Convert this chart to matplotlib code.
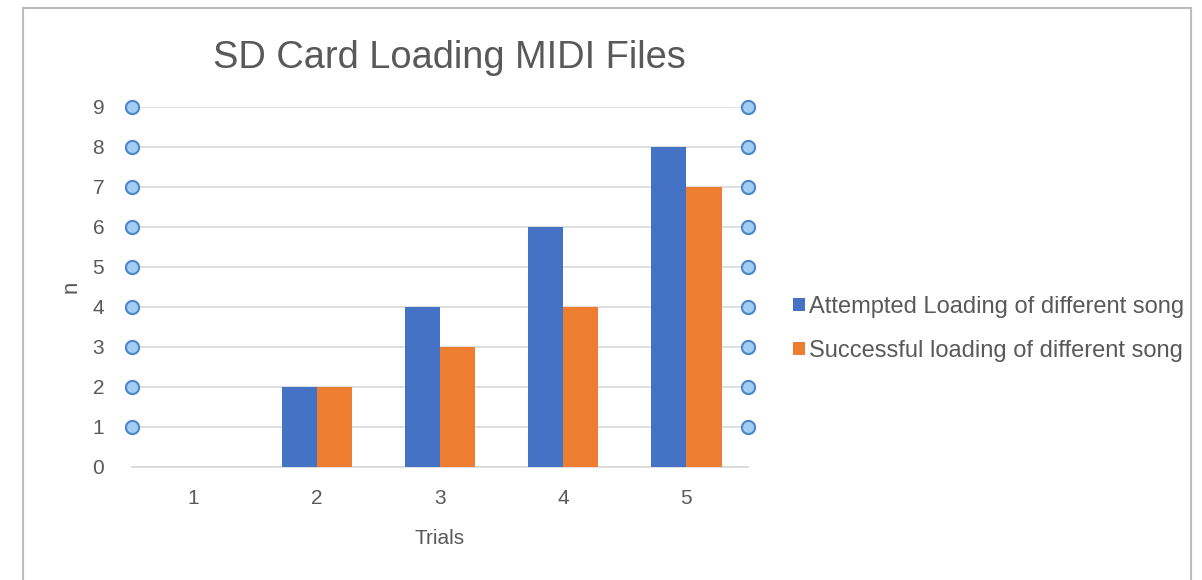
import matplotlib.pyplot as plt
import matplotlib.patches as mpatches
import numpy as np

plt.rcParams['font.family'] = ['Liberation Sans', 'DejaVu Sans']

# data
trials = ["1", "2", "3", "4", "5"]
attempted = [0, 2, 4, 6, 8]
successful = [0, 2, 3, 4, 7]
series_names = ["Attempted Loading of different song", "Successful loading of different song"]
y_ticks = [0, 1, 2, 3, 4, 5, 6, 7, 8, 9]

blue = "#4472C4"
orange = "#ED7D31"
txt = "#595959"

fig = plt.figure(figsize=(12.02, 5.8), dpi=100)
W, H = 1202, 580

# outer frame of the chart
fig.patches.append(mpatches.Rectangle((23 / W, -0.05), (1191 - 23) / W, 1.05 - 8 / H,
                                      transform=fig.transFigure, fill=False,
                                      edgecolor="#bdbdbd", linewidth=1.5))

ax = fig.add_axes([132 / W, 1 - 467 / H, (748 - 132) / W, (467 - 106.7) / H])

x = np.arange(1, len(trials) + 1)
w = 0.285
ax.bar(x - w / 2, attempted, w, color=blue, label=series_names[0], zorder=3)
ax.bar(x + w / 2, successful, w, color=orange, label=series_names[1], zorder=3)

ax.set_xlim(0.5, 5.5)
ax.set_ylim(0, 9)
ax.set_yticks(y_ticks)
ax.set_xticks(x)
ax.set_xticklabels(trials)
ax.grid(axis="y", color="#d9d9d9", linewidth=1.2, zorder=0)
for s in ["top", "right", "left"]:
    ax.spines[s].set_visible(False)
ax.spines["bottom"].set_color("#d9d9d9")
ax.spines["bottom"].set_linewidth(1.2)
ax.tick_params(axis="both", length=0, colors=txt, labelsize=15)
ax.tick_params(axis="y", pad=20)
ax.tick_params(axis="x", pad=16)

# circles at the ends of each gridline
gy = [t for t in y_ticks if t > 0]
for xe in ax.get_xlim():
    ax.plot([xe] * len(gy), gy, "o", ms=9.5, mfc="#a3ccf5", mec="#4a86c8",
            mew=1.5, clip_on=False, zorder=4)

ax.set_ylabel("n", color=txt, fontsize=16, labelpad=8)
ax.set_xlabel("Trials", color=txt, fontsize=15, labelpad=15)
fig.text(449 / W, 1 - 58 / H, "SD Card Loading MIDI Files", ha="center", va="center",
         fontsize=27.4, color=txt)

ax.legend(loc="center left", bbox_to_anchor=(793 / W, 1 - 329 / H),
          bbox_transform=fig.transFigure, frameon=False, fontsize=17,
          labelcolor=txt, handlelength=0.5, handleheight=0.5, handletextpad=0.17,
          labelspacing=0.92, borderpad=0, borderaxespad=0)

fig.savefig("out.png", dpi=100)
